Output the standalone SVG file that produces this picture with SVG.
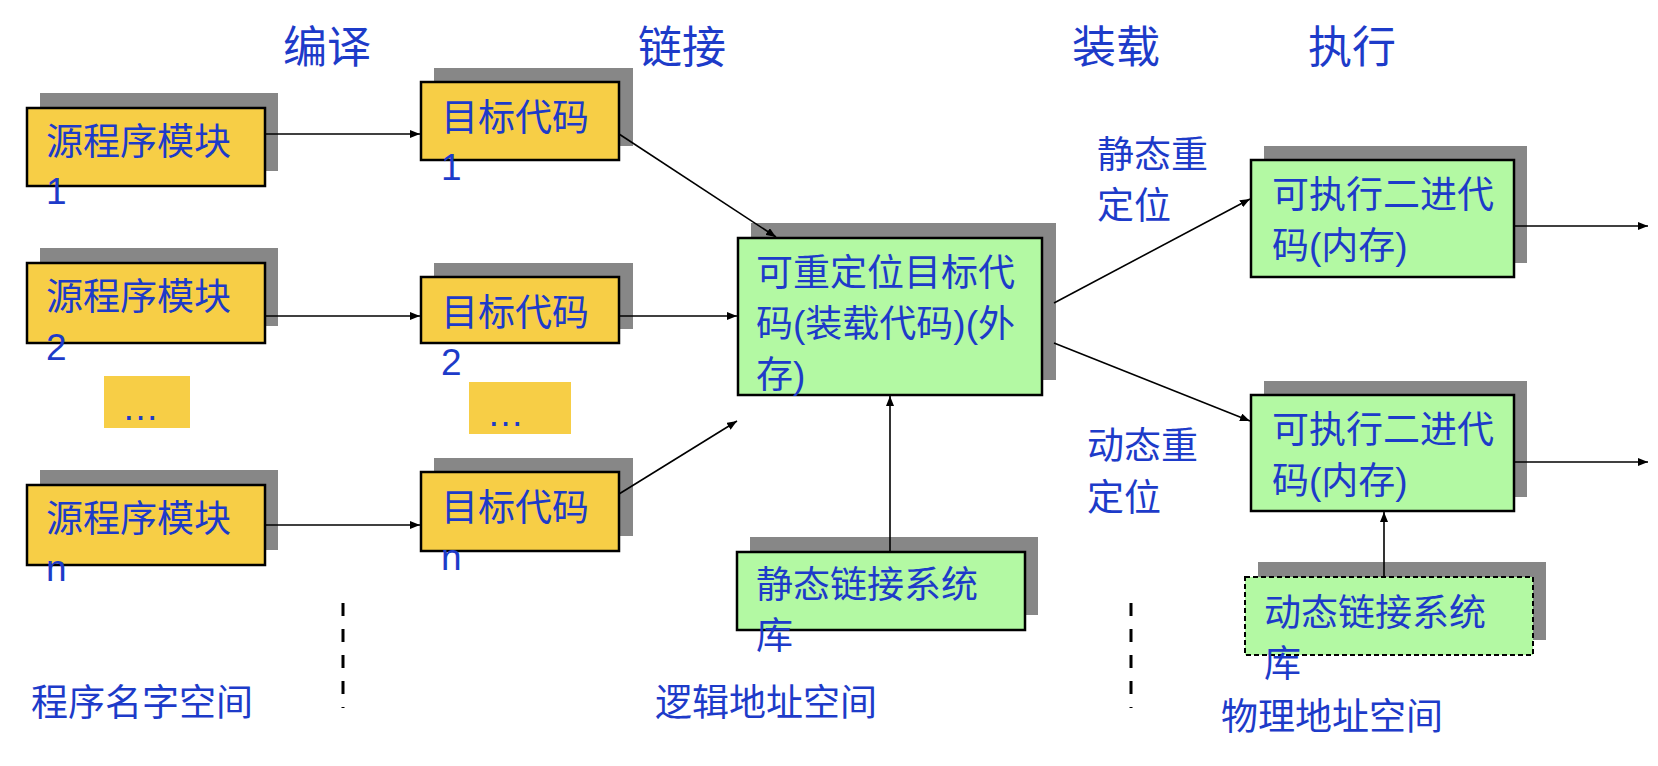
<svg xmlns="http://www.w3.org/2000/svg" width="1658" height="766" viewBox="0 0 1658 766">
<style>
.t{font-family:"Liberation Sans","Noto Sans CJK SC",sans-serif;font-size:37px;fill:#1d3bc9}
.h{font-family:"Liberation Sans","Noto Sans CJK SC",sans-serif;font-size:44px;fill:#1d3bc9}
.sh{fill:#878787}
.y{fill:#f7ce46;stroke:#000;stroke-width:2.5}
.g{fill:#b3f9a3;stroke:#000;stroke-width:2.5}
.gd{fill:#b3f9a3;stroke:#000;stroke-width:2;stroke-dasharray:5 3}
.c{stroke:#000;stroke-width:1.6;fill:none}
.dash{stroke:#000;stroke-width:3;stroke-dasharray:13 13}
</style>
<defs>
<marker id="ah" markerWidth="10" markerHeight="8" refX="10" refY="4" orient="auto" markerUnits="userSpaceOnUse">
<path d="M0,0 L10,4 L0,8 Z" fill="#000"/>
</marker>
</defs>
<rect width="1658" height="766" fill="#fff"/>

<g id="titles">
<text class="h" x="283" y="63">编译</text>
<text class="h" x="638" y="63">链接</text>
<text class="h" x="1072" y="63">装载</text>
<text class="h" x="1308" y="63">执行</text>
</g>

<g id="src1">
<rect class="sh" x="40" y="93" width="238" height="78"/>
<rect class="y" x="27" y="108" width="238" height="78"/>
<text class="t" x="46" y="155">源程序模块</text>
<text class="t" x="46" y="204">1</text>
</g>
<g id="src2">
<rect class="sh" x="40" y="248" width="238" height="78"/>
<rect class="y" x="27" y="263" width="238" height="80"/>
<text class="t" x="46" y="310">源程序模块</text>
<text class="t" x="46" y="360">2</text>
</g>
<g id="dots1">
<rect x="104" y="376" width="86" height="52" fill="#f7ce46"/>
<text class="t" x="122" y="420">…</text>
</g>
<g id="srcn">
<rect class="sh" x="40" y="470" width="238" height="80"/>
<rect class="y" x="27" y="485" width="238" height="80"/>
<text class="t" x="46" y="532">源程序模块</text>
<text class="t" x="46" y="581">n</text>
</g>

<g id="obj1">
<rect class="sh" x="434" y="68" width="199" height="78"/>
<rect class="y" x="421" y="82" width="198" height="78"/>
<text class="t" x="441" y="131">目标代码</text>
<text class="t" x="441" y="180">1</text>
</g>
<g id="obj2">
<rect class="sh" x="434" y="263" width="199" height="66"/>
<rect class="y" x="421" y="277" width="198" height="66"/>
<text class="t" x="441" y="326">目标代码</text>
<text class="t" x="441" y="375">2</text>
</g>
<g id="dots2">
<rect x="469" y="382" width="102" height="52" fill="#f7ce46"/>
<text class="t" x="487" y="426">…</text>
</g>
<g id="objn">
<rect class="sh" x="434" y="458" width="199" height="78"/>
<rect class="y" x="421" y="472" width="198" height="79"/>
<text class="t" x="441" y="521">目标代码</text>
<text class="t" x="441" y="570">n</text>
</g>

<g id="reloc">
<rect class="sh" x="751" y="223" width="305" height="157"/>
<rect class="g" x="738" y="238" width="304" height="157"/>
<text class="t" x="756" y="286">可重定位目标代</text>
<text class="t" x="756" y="337">码(装载代码)(外</text>
<text class="t" x="756" y="388">存)</text>
</g>

<g id="staticlib">
<rect class="sh" x="750" y="537" width="288" height="78"/>
<rect class="g" x="737" y="552" width="288" height="78"/>
<text class="t" x="756" y="598">静态链接系统</text>
<text class="t" x="756" y="649">库</text>
</g>

<g id="exe1">
<rect class="sh" x="1264" y="146" width="263" height="117"/>
<rect class="g" x="1251" y="160" width="263" height="117"/>
<text class="t" x="1272" y="208">可执行二进代</text>
<text class="t" x="1272" y="259">码(内存)</text>
</g>
<g id="exe2">
<rect class="sh" x="1264" y="381" width="263" height="116"/>
<rect class="g" x="1251" y="395" width="263" height="116"/>
<text class="t" x="1272" y="443">可执行二进代</text>
<text class="t" x="1272" y="494">码(内存)</text>
</g>

<g id="dynlib">
<rect class="sh" x="1258" y="562" width="288" height="78"/>
<rect class="gd" x="1245" y="577" width="288" height="78"/>
<text class="t" x="1264" y="626">动态链接系统</text>
<text class="t" x="1264" y="677">库</text>
</g>

<g id="labels">
<text class="t" x="1097" y="168">静态重</text>
<text class="t" x="1097" y="219">定位</text>
<text class="t" x="1087" y="459">动态重</text>
<text class="t" x="1087" y="511">定位</text>
<text class="t" x="31" y="716">程序名字空间</text>
<text class="t" x="655" y="716">逻辑地址空间</text>
<text class="t" x="1221" y="730">物理地址空间</text>
</g>

<g id="dividers">
<line class="dash" x1="343" y1="603" x2="343" y2="708"/>
<line class="dash" x1="1131" y1="603" x2="1131" y2="708"/>
</g>

<g id="connectors">
<line class="c" x1="265" y1="134" x2="420" y2="134" marker-end="url(#ah)"/>
<line class="c" x1="265" y1="316" x2="420" y2="316" marker-end="url(#ah)"/>
<line class="c" x1="265" y1="525" x2="420" y2="525" marker-end="url(#ah)"/>
<line class="c" x1="619" y1="134" x2="776" y2="237" marker-end="url(#ah)"/>
<line class="c" x1="619" y1="316" x2="737" y2="316" marker-end="url(#ah)"/>
<line class="c" x1="619" y1="494" x2="737" y2="421" marker-end="url(#ah)"/>
<line class="c" x1="890" y1="552" x2="890" y2="396" marker-end="url(#ah)"/>
<line class="c" x1="1054" y1="303" x2="1250" y2="199" marker-end="url(#ah)"/>
<line class="c" x1="1054" y1="343" x2="1250" y2="421" marker-end="url(#ah)"/>
<line class="c" x1="1514" y1="226" x2="1648" y2="226" marker-end="url(#ah)"/>
<line class="c" x1="1514" y1="462" x2="1648" y2="462" marker-end="url(#ah)"/>
<line class="c" x1="1384" y1="577" x2="1384" y2="512" marker-end="url(#ah)"/>
</g>
</svg>
